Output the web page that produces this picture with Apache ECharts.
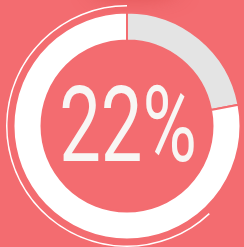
<!DOCTYPE html>
<html>
<head>
<meta charset="utf-8">
<script src="https://cdn.jsdelivr.net/npm/echarts@6/dist/echarts.min.js"></script>
<style>
  html, body { margin: 0; padding: 0; background: #f36c70; }
  #chart { width: 244px; height: 247px; }
</style>
</head>
<body>
<div id="chart"></div>
<script>
// 数据
const ringNames = ['done', 'rest']
const ringValues = [22, 78]
const arcValues = [62, 38]
const labelText = '22%'

const bgColor = '#f36c70'
const chart = echarts.init(document.getElementById('chart'))

const option = {
  backgroundColor: bgColor,
  animation: false,
  graphic: [
    {
      // 顶部暗影
      type: 'ellipse',
      shape: { cx: 135, cy: -12, rx: 45, ry: 10 },
      style: { fill: 'rgba(215,70,70,0.7)', shadowBlur: 20, shadowColor: 'rgba(210,65,65,0.9)' },
      silent: true
    },
    {
      type: 'text',
      x: 128,
      y: 134,
      scaleX: 0.7,
      silent: true,
      z: 10,
      style: {
        text: labelText,
        fontFamily: 'Roboto',
        fontSize: 106,
        fill: '#f8f6f4',
        align: 'center',
        verticalAlign: 'middle'
      }
    }
  ],
  series: [
    {
      type: 'pie',
      center: [127, 126],
      radius: [85.5, 113.5],
      startAngle: 90,
      clockwise: true,
      silent: true,
      label: { show: false },
      labelLine: { show: false },
      emphasis: { disabled: true },
      itemStyle: { borderColor: bgColor, borderWidth: 2 },
      data: ringValues.map((v, i) => ({
        name: ringNames[i],
        value: v,
        itemStyle: { color: i === 0 ? '#e4e4e4' : '#ffffff' }
      }))
    },
    {
      // 外圈细线
      type: 'pie',
      center: [127, 126],
      radius: [119.5, 121],
      startAngle: 90,
      clockwise: false,
      silent: true,
      label: { show: false },
      labelLine: { show: false },
      emphasis: { disabled: true },
      data: arcValues.map((v, i) => ({
        value: v,
        itemStyle: { color: i === 0 ? '#ffffff' : 'transparent' }
      }))
    }
  ]
}
chart.setOption(option)
</script>
</body>
</html>
